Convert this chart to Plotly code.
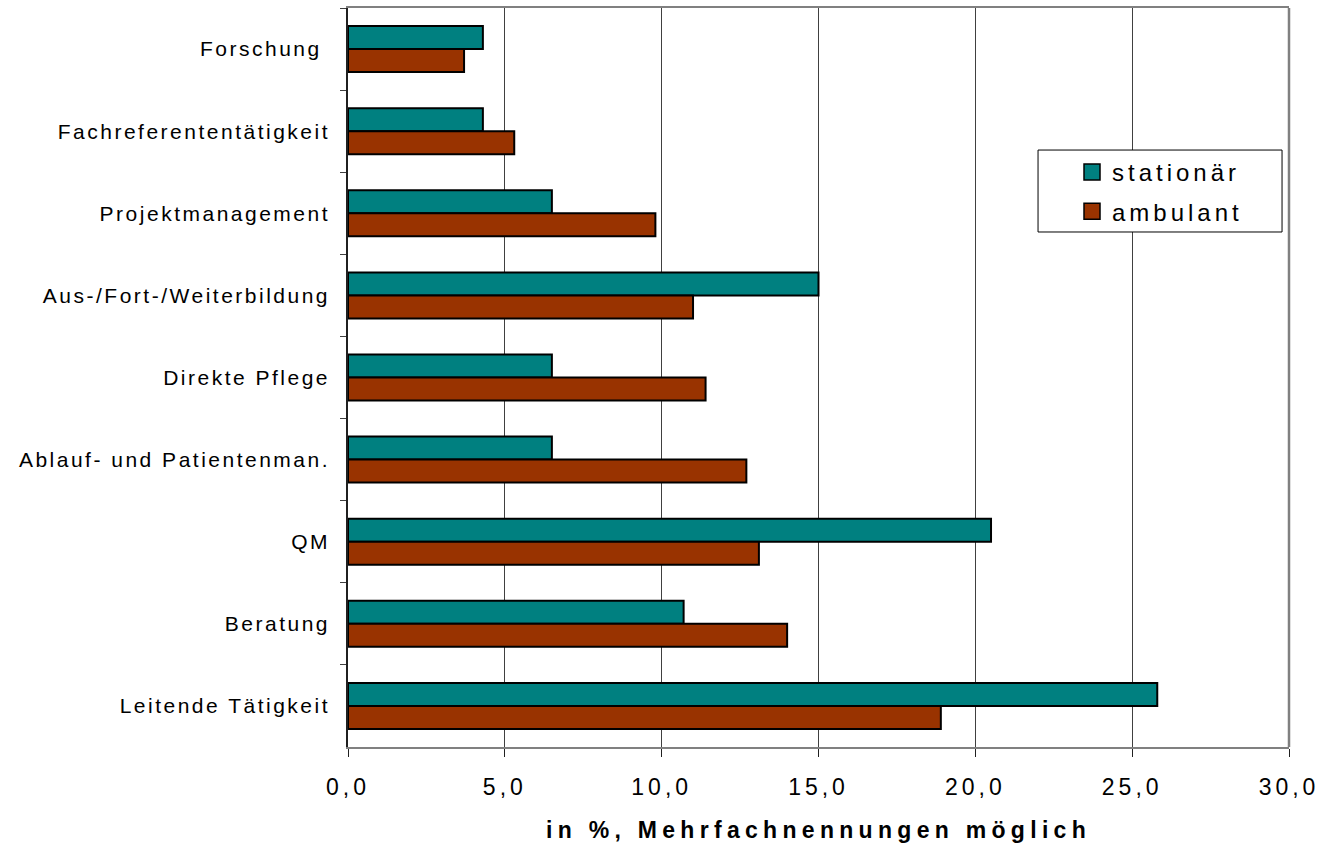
import plotly.graph_objects as go

categories = ["Forschung ", "Fachreferententätigkeit", "Projektmanagement",
              "Aus-/Fort-/Weiterbildung", "Direkte Pflege", "Ablauf- und Patientenman.",
              "QM", "Beratung", "Leitende Tätigkeit"]
stationaer = [4.3, 4.3, 6.5, 15.0, 6.5, 6.5, 20.5, 10.7, 25.8]
ambulant = [3.7, 5.3, 9.8, 11.0, 11.4, 12.7, 13.1, 14.0, 18.9]
series_names = ["stationär", "ambulant"]
x_ticks = [0, 5, 10, 15, 20, 25, 30]
x_title = "in %, Mehrfachnennungen möglich"

col_st = "#008080"
col_am = "#993300"
FONT = "Liberation Sans, Arial, sans-serif"

fig = go.Figure()
fig.add_trace(go.Bar(y=categories, x=stationaer, orientation="h", name=series_names[0],
                     marker=dict(color=col_st, line=dict(color="black", width=2)),
                     showlegend=False))
fig.add_trace(go.Bar(y=categories, x=ambulant, orientation="h", name=series_names[1],
                     marker=dict(color=col_am, line=dict(color="black", width=2)),
                     showlegend=False))
# legend proxies (larger square symbols)
for nm, c, g in [(series_names[0], col_st, "a"), (series_names[1], col_am, "b")]:
    fig.add_trace(go.Scatter(x=[None], y=[None], mode="markers", name=nm, legendgroup=g,
                             marker=dict(symbol="square", size=16, color=c,
                                         line=dict(color="black", width=1.5)),
                             showlegend=True, hoverinfo="skip"))

fig.update_layout(
    width=1326, height=849,
    margin=dict(l=348, r=37, t=8, b=102, autoexpand=False),
    paper_bgcolor="white", plot_bgcolor="white",
    barmode="group", bargap=0.44, bargroupgap=0,
    separators=",.",
    font=dict(family=FONT, color="black"),
    showlegend=True,
    legend=dict(x=0.7694, y=0.808, xanchor="left", yanchor="top",
                bgcolor="rgba(0,0,0,0)", borderwidth=0,
                font=dict(size=24, family=FONT, color="black"),
                tracegroupgap=5, traceorder="grouped"),
    shapes=[
        dict(type="line", xref="paper", yref="paper", x0=1, x1=1, y0=0, y1=1,
             line=dict(color="#808080", width=2.5), layer="above"),
        dict(type="rect", xref="paper", yref="paper", x0=0.7333, x1=0.9926,
             y0=0.6969, y1=0.8078, line=dict(color="black", width=1),
             fillcolor="white", layer="above"),
    ],
)
fig.update_xaxes(
    range=[0, 30], tickvals=x_ticks, tickformat=".1f",
    showgrid=True, gridcolor="#404040", gridwidth=1, zeroline=False,
    showline=True, linecolor="#808080", linewidth=2, mirror=True,
    ticks="outside", ticklen=8, tickcolor="#202020", tickwidth=1,
    tickfont=dict(size=23, family=FONT, color="black"),
    ticklabelstandoff=10,
    title=dict(text="<b>" + x_title + "</b>", font=dict(size=23, family=FONT, color="black"),
               standoff=23),
    automargin=False,
)
fig.update_yaxes(
    type="category", autorange="reversed",
    showgrid=False, zeroline=False,
    showline=True, linecolor="#202020", linewidth=1.5,
    ticks="outside", tickson="boundaries", ticklen=6, tickcolor="#404040", tickwidth=1,
    tickfont=dict(size=21, family=FONT, color="black"),
    ticklabelstandoff=12,
    automargin=False,
)

post = """
var s=document.createElement('style');
s.textContent='body{margin:0}.ytick text{letter-spacing:2.5px}.xtick text{letter-spacing:4px}text.xtitle{letter-spacing:5.3px}.legendtext{letter-spacing:4px}.legend .scrollbox{clip-path:none !important}';
document.head.appendChild(s);
"""
fig.write_html("out.html", post_script=post)
